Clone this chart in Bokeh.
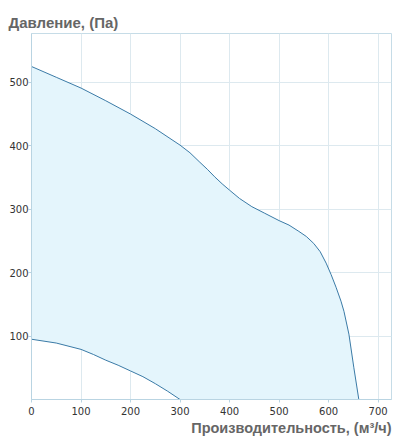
from bokeh.plotting import figure
from bokeh.models import Range1d, FixedTicker, Title
from bokeh.embed import file_html
from bokeh.resources import INLINE

# Upper curve (max pressure) — flow m3/h vs pressure Pa
upper_x = [0, 50, 100, 150, 200, 250, 300, 320, 340, 355, 370, 385, 400, 420, 445, 470, 500,
           520, 540, 555, 570, 583, 595, 605, 615, 625, 631, 641, 651, 661]
upper_y = [525, 508, 491, 471, 450, 427, 401, 389, 374, 363, 351, 340, 330, 317, 304, 294, 282,
           275, 265, 257, 246, 233, 215, 197, 177, 155, 139, 103, 50, 0]

# Lower curve (min pressure)
lower_x = [0, 50, 100, 125, 150, 175, 200, 225, 250, 275, 300]
lower_y = [95, 89, 79, 71, 62, 54, 45, 36, 25, 13, 0]

x_ticks = [0, 100, 200, 300, 400, 500, 600, 700]
y_ticks = [100, 200, 300, 400, 500]

title_text = "Давление, (Па)"
xlabel_text = "Производительность, (м³/ч)"

p = figure(width=401, height=439, output_backend="svg", toolbar_location=None,
           x_range=Range1d(0, 727), y_range=Range1d(0, 577),
           min_border_left=31, min_border_right=10, min_border_top=33, min_border_bottom=40)

p.background_fill_color = "white"
p.border_fill_color = "white"
p.outline_line_color = "#c6dce7"
p.outline_line_width = 1

# Grid
p.xgrid.ticker = FixedTicker(ticks=x_ticks)
p.ygrid.ticker = FixedTicker(ticks=y_ticks)
p.xgrid.grid_line_color = "#dde9ef"
p.ygrid.grid_line_color = "#dde9ef"

# Axes
for ax in (p.xaxis[0], p.yaxis[0]):
    ax.axis_line_color = "#b9d4e2"
    ax.major_tick_line_color = "#b9d4e2"
    ax.major_tick_out = 3
    ax.major_tick_in = 0
    ax.minor_tick_line_color = None
    ax.major_label_text_font = "DejaVu Sans"
    ax.major_label_text_font_size = "10px"
    ax.major_label_text_color = "#333333"
p.xaxis.ticker = FixedTicker(ticks=x_ticks)
p.yaxis.ticker = FixedTicker(ticks=y_ticks)
p.xaxis.major_label_standoff = 4
p.yaxis.major_label_standoff = 0

# Filled region between curves
poly_x = upper_x + lower_x[::-1]
poly_y = upper_y + lower_y[::-1]
p.patch(poly_x, poly_y, fill_color="#e4f5fc", line_color=None)

p.line(upper_x, upper_y, line_color="#3a7aa6", line_width=1)
p.line(lower_x, lower_y, line_color="#3a7aa6", line_width=1)

p.title.text = title_text
p.title.text_font = "Liberation Sans"
p.title.text_font_style = "bold"
p.title.text_font_size = "15px"
p.title.text_color = "#666666"
p.title.align = "left"
p.title.offset = -23
p.title.standoff = 6

xt = Title(text=xlabel_text, text_font="Liberation Sans", text_font_style="bold",
           text_font_size="14.5px", text_color="#666666", align="right", standoff=0)
p.add_layout(xt, "below")

open("out.html", "w").write(file_html(p, INLINE))
